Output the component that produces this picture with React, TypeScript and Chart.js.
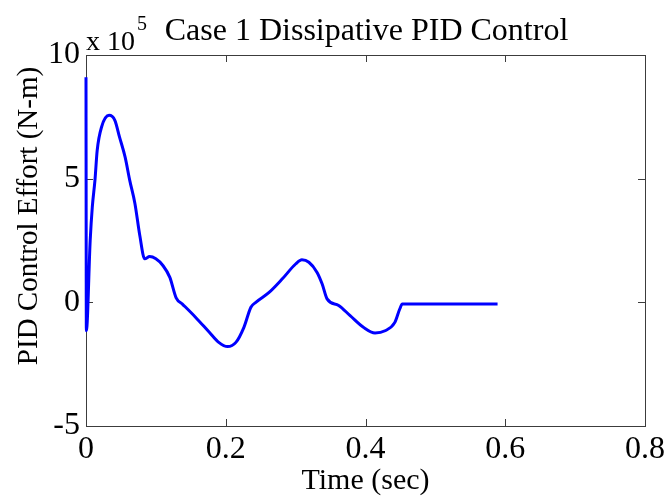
import React, { useEffect, useRef } from "react";
import { Chart, registerables } from "chart.js";

Chart.register(...registerables);

const timeSec: number[] = [
  0, 0.0005, 0.006, 0.009, 0.0128, 0.016, 0.0223, 0.033, 0.0413, 0.048, 0.056,
  0.0626, 0.07, 0.077, 0.084, 0.091, 0.1, 0.11, 0.12, 0.129, 0.138, 0.157,
  0.1765, 0.19, 0.2026, 0.2145, 0.226, 0.236, 0.243, 0.262, 0.281, 0.3, 0.309,
  0.319, 0.3307, 0.338, 0.345, 0.3616, 0.378, 0.397, 0.4137, 0.428, 0.442,
  0.449, 0.4527, 0.52, 0.589,
];
const effort: number[] = [
  9.1, -1.15, 2.5, 3.85, 4.93, 6.14, 7.09, 7.56, 7.36, 6.68, 5.87, 4.93, 4.0,
  2.7, 1.76, 1.85, 1.76, 1.49, 1.01, 0.18, -0.07, -0.61, -1.21, -1.62, -1.79,
  -1.62, -1.01, -0.2, 0, 0.4, 0.95, 1.55, 1.72, 1.62, 1.21, 0.74, 0.14, -0.13,
  -0.54, -1.01, -1.24, -1.15, -0.81, -0.27, -0.07, -0.07, -0.07,
];
const xTicks: number[] = [0, 0.2, 0.4, 0.6, 0.8];
const yTicks: number[] = [-5, 0, 5, 10];

const titleText = "Case 1 Dissipative PID Control";
const xLabel = "Time (sec)";
const yLabel = "PID Control Effort (N-m)";
const FONT = "'Liberation Serif', 'Times New Roman', serif";

const matlabPlugin = {
  id: "matlabDecor",
  beforeDatasetsDraw(chart: any) {
    const { ctx, chartArea } = chart;
    const { left, right, top, bottom } = chartArea;
    const xs = chart.scales.x;
    const ys = chart.scales.y;
    ctx.save();
    ctx.strokeStyle = "#3c3c3c";
    ctx.lineWidth = 1;
    ctx.strokeRect(Math.round(left) + 0.5, Math.round(top) + 0.5, Math.round(right - left), Math.round(bottom - top));
    const tl = 7;
    ctx.beginPath();
    xTicks.forEach((v) => {
      const px = Math.round(xs.getPixelForValue(v)) + 0.5;
      ctx.moveTo(px, bottom);
      ctx.lineTo(px, bottom - tl);
      ctx.moveTo(px, top);
      ctx.lineTo(px, top + tl);
    });
    yTicks.forEach((v) => {
      const py = Math.round(ys.getPixelForValue(v)) + 0.5;
      ctx.moveTo(left, py);
      ctx.lineTo(left + tl, py);
      ctx.moveTo(right, py);
      ctx.lineTo(right - tl, py);
    });
    ctx.stroke();
    ctx.restore();
  },
  afterDraw(chart: any) {
    const { ctx, chartArea } = chart;
    const { left, right } = chartArea;
    ctx.save();
    ctx.fillStyle = "#000";
    ctx.textBaseline = "alphabetic";
    // exponent
    ctx.textAlign = "left";
    ctx.font = `28px ${FONT}`;
    ctx.fillText("x 10", left, 50);
    const w = ctx.measureText("x 10").width;
    ctx.font = `20px ${FONT}`;
    ctx.fillText("5", left + w + 2, 30);
    // title
    ctx.textAlign = "center";
    ctx.font = `32px ${FONT}`;
    ctx.fillText(titleText, (left + right) / 2 + 1, 40);
    // x label
    ctx.font = `30px ${FONT}`;
    ctx.fillText(xLabel, (left + right) / 2, 489);
    // y label
    ctx.save();
    ctx.translate(37, 216);
    ctx.rotate(-Math.PI / 2);
    ctx.textAlign = "center";
    ctx.font = `29px ${FONT}`;
    ctx.fillText(yLabel, 0, 0);
    ctx.restore();
    ctx.restore();
  },
};

export default function App() {
  const ref = useRef<HTMLCanvasElement | null>(null);
  useEffect(() => {
    document.body.style.margin = "0";
    const canvas = ref.current;
    if (!canvas) return;
    const chart = new Chart(canvas, {
      type: "line",
      data: {
        datasets: [
          {
            data: timeSec.map((t, i) => ({ x: t, y: effort[i] })),
            borderColor: "#0000ff",
            borderWidth: 3,
            pointRadius: 0,
            fill: false,
            clip: 4,
            cubicInterpolationMode: "monotone",
          },
        ],
      },
      options: {
        animation: false,
        responsive: false,
        layout: { padding: { left: 0, right: 21, top: 55, bottom: 0 } },
        plugins: {
          legend: { display: false },
          tooltip: { enabled: false },
          title: { display: false },
        },
        scales: {
          x: {
            type: "linear",
            min: 0,
            max: 0.8,
            afterBuildTicks: (scale: any) => {
              scale.ticks = xTicks.map((v) => ({ value: v }));
            },
            afterFit: (scale: any) => {
              scale.height = 73;
            },
            grid: { display: false, drawTicks: false },
            border: { display: false },
            ticks: {
              padding: 4,
              color: "#000",
              font: { family: FONT, size: 32 },
              maxRotation: 0,
              callback: (v: any) => String(Number(v)),
            },
          },
          y: {
            type: "linear",
            min: -5,
            max: 10,
            afterBuildTicks: (scale: any) => {
              scale.ticks = yTicks.map((v) => ({ value: v }));
            },
            afterFit: (scale: any) => {
              scale.width = 86;
            },
            grid: { display: false, drawTicks: false },
            border: { display: false },
            ticks: {
              padding: 6,
              color: "#000",
              font: { family: FONT, size: 32 },
              callback: (v: any) => String(Number(v)),
            },
          },
        },
      },
      plugins: [matlabPlugin],
    } as any);
    return () => chart.destroy();
  }, []);
  return (
    <div style={{ width: 669, height: 499, background: "#fff" }}>
      <canvas ref={ref} width={669} height={499} />
    </div>
  );
}
